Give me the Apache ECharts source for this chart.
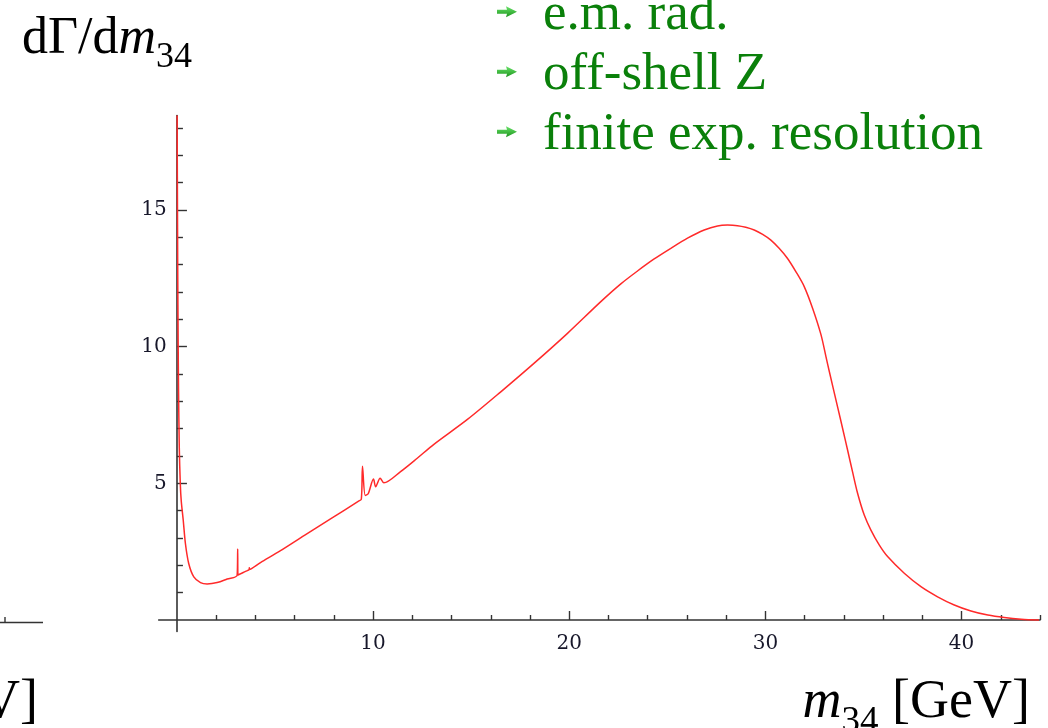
<!DOCTYPE html>
<html>
<head>
<meta charset="utf-8">
<script src="https://cdn.jsdelivr.net/npm/echarts@6/dist/echarts.min.js"></script>
<style>
  html, body { margin: 0; padding: 0; background: #ffffff; }
  #chart { width: 1048px; height: 728px; }
</style>
</head>
<body>
<div id="chart"></div>
<script>
// Invariant mass of the second lepton pair, m34 [GeV]
const m34 = [
  0.01, 0.03, 0.05, 0.08, 0.12, 0.17, 0.22, 0.32, 0.43, 0.60, 0.86, 1.20, 1.54, 2.05, 2.56,
  3.07, 3.097, 3.11, 3.50, 3.68, 3.69, 3.70, 4.26, 5.28, 6.50, 7.83, 9.26, 9.40, 9.46, 9.60,
  9.75, 10.02, 10.13, 10.36, 10.55, 11.40, 12.25, 13.10, 14.81, 16.51, 18.20, 19.91, 21.61,
  22.63, 23.48, 24.33, 25.18, 26.03, 26.88, 27.56, 28.07, 28.58, 29.00, 29.43, 29.86, 30.28,
  30.70, 31.13, 31.56, 31.98, 32.41, 32.83, 33.09, 33.25, 33.68, 33.94, 34.19, 34.45, 34.70,
  35.04, 35.38, 35.81, 36.23, 37.08, 37.93, 38.78, 39.63, 40.48, 41.34, 42.18, 43.04, 43.95
];
// Differential decay rate dΓ/dm34
const rate = [
  18.46, 14.5, 11.5, 8.5, 6.3, 5.0, 4.35, 3.66, 2.81, 2.07, 1.58, 1.37, 1.32, 1.37, 1.50,
  1.64, 2.60, 1.65, 1.78, 1.84, 1.91, 1.85, 2.10, 2.54, 3.10, 3.70, 4.35, 4.42, 5.63, 4.56,
  4.62, 5.16, 4.88, 5.19, 5.02, 5.43, 5.92, 6.43, 7.34, 8.35, 9.39, 10.49, 11.65,
  12.30, 12.77, 13.21, 13.60, 13.97, 14.27, 14.42, 14.45, 14.43, 14.37, 14.27, 14.11, 13.90,
  13.60, 13.23, 12.74, 12.20, 11.40, 10.45, 9.63, 9.12, 7.80, 7.00, 6.22, 5.40, 4.64,
  3.84, 3.29, 2.74, 2.32, 1.71, 1.22, 0.85, 0.55, 0.33, 0.18, 0.09, 0.03, 0.0
];

const xMajorTicks = [10, 20, 30, 40];
const xMinorTicks = [2, 4, 6, 8, 12, 14, 16, 18, 22, 24, 26, 28, 32, 34, 36, 38, 42, 44];
const yMajorTicks = [5, 10, 15];
const yMinorTicks = [1, 2, 3, 4, 6, 7, 8, 9, 11, 12, 13, 14, 16, 17, 18];

const bulletItems = ['e.m. rad.', 'off-shell Z', 'finite exp. resolution'];

const AXIS_COLOR = '#333333';
const LABEL_FONT = 'DejaVu Serif';
const TEXT_FONT = 'Liberation Serif';

const chart = echarts.init(document.getElementById('chart'), null, { renderer: 'canvas' });

function xAxisOf(ticks, len, withLabels, showLine) {
  return {
    type: 'value', min: -0.93, max: 44, position: 'bottom',
    axisLine: { show: showLine, onZero: true, onZeroAxisIndex: 0, lineStyle: { color: AXIS_COLOR, width: 1.6 } },
    axisTick: { show: true, customValues: ticks, inside: true, length: len, lineStyle: { color: AXIS_COLOR, width: 1.4 } },
    axisLabel: withLabels
      ? { show: true, customValues: ticks, margin: 2.5, fontFamily: LABEL_FONT, fontSize: 20, color: '#17172a' }
      : { show: false },
    splitLine: { show: false }
  };
}
function yAxisOf(ticks, len, withLabels, showLine) {
  return {
    type: 'value', min: -0.42, max: 18.46, position: 'left',
    axisLine: { show: showLine, onZero: true, onZeroAxisIndex: 0, lineStyle: { color: AXIS_COLOR, width: 1.6 } },
    axisTick: { show: true, customValues: ticks, inside: true, length: len, lineStyle: { color: AXIS_COLOR, width: 1.4 } },
    axisLabel: withLabels
      ? { show: true, customValues: ticks, margin: -8, fontFamily: LABEL_FONT, fontSize: 20, color: '#17172a' }
      : { show: false },
    splitLine: { show: false }
  };
}

// small green arrow used as list bullet
function bullet(cy) {
  return {
    type: 'polygon',
    shape: { points: [[497, cy - 2], [507, cy - 2], [506, cy - 5.5], [517, cy], [506, cy + 5.5], [507, cy + 2], [497, cy + 2]] },
    style: { fill: new echarts.graphic.LinearGradient(0, 0, 0, 1, [
      { offset: 0, color: '#6ae36a' }, { offset: 1, color: '#1c941c' }
    ]) },
    silent: true
  };
}

function captionRich(size, subSize, pad) {
  return {
    a: { fontFamily: TEXT_FONT, fontSize: size, lineHeight: size, padding: [0, 0, pad, 0], verticalAlign: 'bottom', fill: '#000' },
    b: { fontFamily: TEXT_FONT, fontSize: size, lineHeight: size, fontStyle: 'italic', padding: [0, 0, pad, 0], verticalAlign: 'bottom', fill: '#000' },
    c: { fontFamily: TEXT_FONT, fontSize: subSize, lineHeight: subSize, verticalAlign: 'bottom', fill: '#000' }
  };
}

const graphics = [];
// y-axis caption dΓ/dm34
graphics.push({
  type: 'text', x: 22, y: 24, silent: true,
  style: { text: '{a|dΓ/d}{b|m}{c|34}', verticalAlign: 'top', align: 'left', rich: captionRich(52, 36, 11) }
});
// x-axis caption m34 [GeV]
graphics.push({
  type: 'text', x: 1030, y: 687, silent: true,
  style: { text: '{b|m}{c|34}{a| [GeV]}', verticalAlign: 'top', align: 'right', rich: captionRich(54, 37, 11) }
});
// neighbouring panel's axis end at the left edge
graphics.push({
  type: 'text', x: 38, y: 687, silent: true,
  style: { text: '{a|[GeV]}', verticalAlign: 'top', align: 'right', rich: captionRich(54, 37, 11) }
});
graphics.push({ type: 'line', silent: true, shape: { x1: 0, y1: 622.5, x2: 43, y2: 622.5 }, style: { stroke: AXIS_COLOR, lineWidth: 1.6 } });
graphics.push({ type: 'line', silent: true, shape: { x1: 5, y1: 617, x2: 5, y2: 622.5 }, style: { stroke: AXIS_COLOR, lineWidth: 1.4 } });

// bullet list
const bulletMid = [14.7, 74.7, 134.7];
bulletItems.forEach(function (t, i) {
  graphics.push(bullet(bulletMid[i] - 3));
  graphics.push({
    type: 'text', x: 543, y: bulletMid[i], silent: true,
    style: { text: t, fontFamily: TEXT_FONT, fontSize: 53, fill: '#0a800a', verticalAlign: 'middle', align: 'left' }
  });
});

chart.setOption({
  animation: false,
  backgroundColor: '#ffffff',
  grid: { left: 158.7, right: 8, top: 115.5, bottom: 96.5, outerBoundsMode: 'none' },
  xAxis: [xAxisOf(xMajorTicks, 9, true, true), xAxisOf(xMinorTicks, 5, false, false)],
  yAxis: [yAxisOf(yMajorTicks, 10, true, true), yAxisOf(yMinorTicks, 6, false, false)],
  series: [{
    type: 'line',
    xAxisIndex: 0, yAxisIndex: 0,
    data: m34.map(function (x, i) { return [x, rate[i]]; }),
    showSymbol: false, symbol: 'none',
    smooth: 0.3,
    lineStyle: { color: '#ff2a2a', width: 1.5 },
    clip: true, silent: true
  }],
  graphic: graphics
});
</script>
</body>
</html>
